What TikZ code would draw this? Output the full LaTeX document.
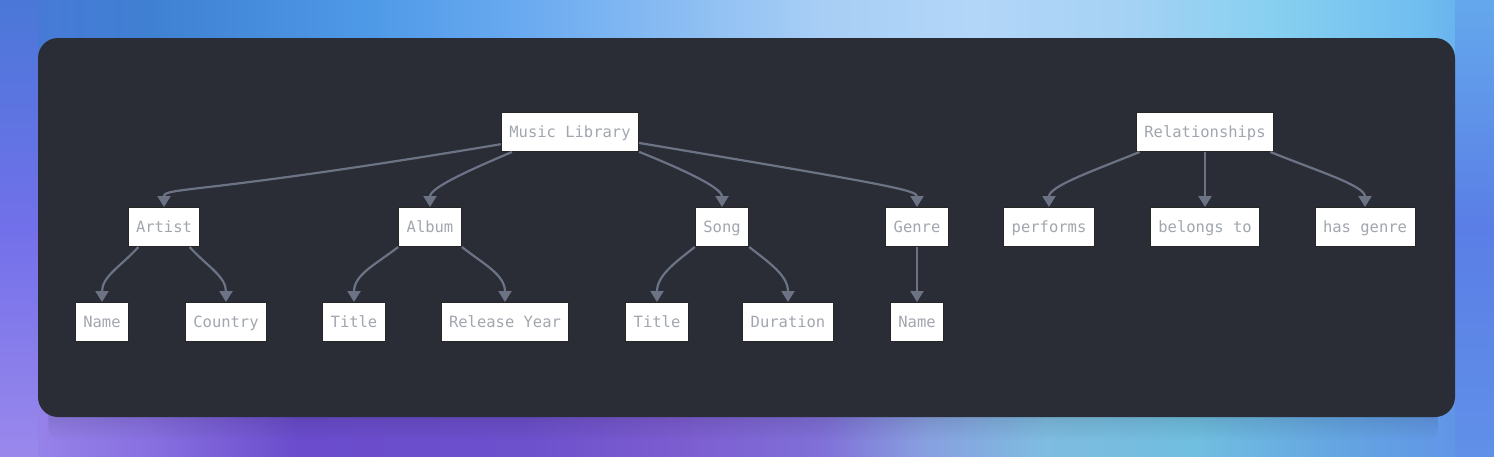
\documentclass[tikz,border=0pt]{standalone}
\usepackage{fontspec}
\usepackage{xcolor}
\usepackage{tikz}
\setmonofont{DejaVu Sans Mono}
\usetikzlibrary{arrows.meta}
\usetikzlibrary{fadings}

\definecolor{panel}{HTML}{2A2D35}
\definecolor{linkc}{HTML}{6B7385}
\definecolor{labelc}{HTML}{A2A6AE}
\definecolor{ta}{HTML}{4A78D8}
\definecolor{tb}{HTML}{3F80D2}
\definecolor{tc}{HTML}{4F9AE8}
\definecolor{td}{HTML}{6AAAF0}
\definecolor{te}{HTML}{A8CEF5}
\definecolor{tf}{HTML}{B2D6F8}
\definecolor{tg}{HTML}{A6D2F4}
\definecolor{th}{HTML}{88D0F0}
\definecolor{ti}{HTML}{70BEF0}
\definecolor{tj}{HTML}{64A8EC}
\definecolor{ba}{HTML}{9A88EC}
\definecolor{bb}{HTML}{8870E0}
\definecolor{bc}{HTML}{6A4CCC}
\definecolor{bd}{HTML}{6C50CC}
\definecolor{be}{HTML}{7C5CD0}
\definecolor{bf}{HTML}{8070D8}
\definecolor{bg}{HTML}{88A0E0}
\definecolor{bh}{HTML}{7EBCE0}
\definecolor{bi}{HTML}{70BEE0}
\definecolor{bj}{HTML}{64A4E2}
\definecolor{bk}{HTML}{6090E8}
\definecolor{lm}{HTML}{7270EA}
\definecolor{rm}{HTML}{5A7EE6}

\pgfdeclarehorizontalshading{topband}{100bp}{color(0bp)=(ta); color(25bp)=(ta);
  color(30bp)=(tb); color(37.5bp)=(tc); color(42.5bp)=(td); color(52.5bp)=(te);
  color(57.5bp)=(tf); color(62.5bp)=(tg); color(67.5bp)=(th); color(72.5bp)=(ti);
  color(75bp)=(tj); color(100bp)=(tj)}
\pgfdeclarehorizontalshading{botband}{100bp}{color(0bp)=(ba); color(25bp)=(ba);
  color(30bp)=(bb); color(35bp)=(bc); color(42.5bp)=(bd); color(47.5bp)=(be);
  color(52.5bp)=(bf); color(56bp)=(bg); color(60bp)=(bh); color(65bp)=(bi);
  color(70bp)=(bj); color(75bp)=(bk); color(100bp)=(bk)}

\begin{document}
\begin{tikzpicture}[x=1pt,y=-1pt,
  box/.style={draw=black!85,line width=1pt,fill=white,text=labelc,
    font=\ttfamily\fontsize{15.5}{18}\selectfont,inner xsep=8pt,
    minimum height=39pt,text height=11pt,text depth=0pt},
  link/.style={draw=linkc,line width=2.2pt,-{Triangle[width=13pt,length=11pt]}}]
\useasboundingbox (0,0) rectangle (1494,456);
\fill[rm] (0,0) rectangle (1494,456);
\shade[shading=topband] (0,0) rectangle (1494,60);
\shade[shading=botband] (0,396) rectangle (1494,456);
\shade[top color=ta,bottom color=ba,middle color=lm] (0,0) rectangle (38,456);
\shade[top color=tj,bottom color=bk,middle color=rm] (1455,0) rectangle (1494,456);
\fill[black,opacity=0.15,path fading=south,rounded corners=12pt] (50,405) rectangle (1443,440);
\fill[panel,rounded corners=20pt] (38,38) rectangle (1455,417);

\node[box] (ml) at (570,132) {Music Library};
\node[box] (rel) at (1205,132) {Relationships};
\node[box] (artist) at (164,227) {Artist};
\node[box] (album) at (430,227) {Album};
\node[box] (song) at (722,227) {Song};
\node[box] (genre) at (917,227) {Genre};
\node[box] (perf) at (1049,227) {performs};
\node[box] (belongs) at (1205,227) {belongs to};
\node[box] (hasgenre) at (1365,227) {has genre};
\node[box] (aname) at (102,322) {Name};
\node[box] (country) at (226,322) {Country};
\node[box] (atitle) at (354,322) {Title};
\node[box] (year) at (505,322) {Release Year};
\node[box] (stitle) at (657,322) {Title};
\node[box] (duration) at (788,322) {Duration};
\node[box] (gname) at (917,322) {Name};

\draw[link] (ml.190) to[out=189.5,in=90,out looseness=2.3,in looseness=0.15] (artist.north);
\draw[link] (ml.199) to[out=203,in=90,out looseness=1.2,in looseness=0.5] (album.north);
\draw[link] (ml.344) to[out=338,in=90,out looseness=1.2,in looseness=0.5] (song.north);
\draw[link] (ml.351) to[out=350.5,in=90,out looseness=2.3,in looseness=0.15] (genre.north);
\draw[link] (rel.197) to[out=202,in=90,out looseness=1.2,in looseness=0.5] (perf.north);
\draw[link] (rel.south) -- (belongs.north);
\draw[link] (rel.343) to[out=338,in=90,out looseness=1.2,in looseness=0.5] (hasgenre.north);
\draw[link] (artist.218) to[out=228,in=90] (aname.north);
\draw[link] (artist.322) to[out=312,in=90] (country.north);
\draw[link] (album.south west) to[out=218,in=90] (atitle.north);
\draw[link] (album.south east) to[out=322,in=90] (year.north);
\draw[link] (song.south west) to[out=218,in=90] (stitle.north);
\draw[link] (song.south east) to[out=322,in=90] (duration.north);
\draw[link] (genre.south) -- (gname.north);
\end{tikzpicture}
\end{document}
